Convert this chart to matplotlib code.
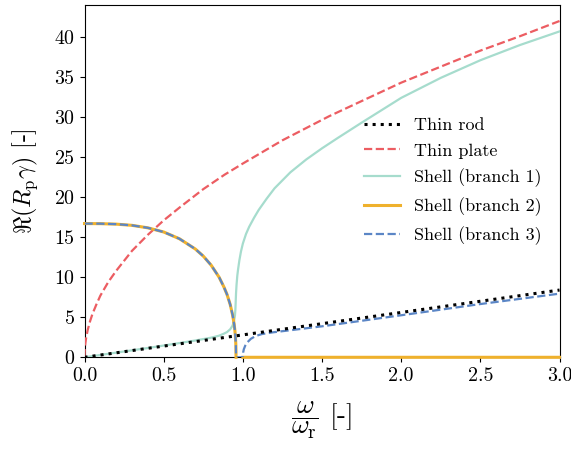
import matplotlib
matplotlib.use("Agg")
import matplotlib.pyplot as plt

plt.rcParams['mathtext.fontset'] = 'cm'
plt.rcParams['font.family'] = ['cmr10', 'DejaVu Serif']
plt.rcParams['axes.formatter.use_mathtext'] = True

# ---- data ----
rod_x = [0.0, 0.5, 1.0, 1.5, 2.0, 2.5, 3.0]
rod_y = [0.0, 1.4, 2.8, 4.2, 5.6, 7.0, 8.4]

plate_x = [0.0, 0.002, 0.005, 0.01, 0.02, 0.035, 0.05, 0.075, 0.1, 0.15, 0.2, 0.3, 0.4, 0.5,
           0.6, 0.75, 0.884, 1.0, 1.25, 1.544, 1.75, 2.0, 2.25, 2.5, 2.75, 3.0]
plate_y = [0.0, 1.1, 1.7, 2.4, 3.4, 4.5, 5.4, 6.6, 7.7, 9.4, 10.8, 13.3, 15.3, 17.1,
           18.7, 21.0, 22.8, 24.2, 27.1, 30.1, 32.0, 34.3, 36.3, 38.3, 40.1, 42.0]

b1_x = [0.0, 0.2, 0.4, 0.6, 0.7, 0.8, 0.85, 0.88, 0.9, 0.92, 0.935, 0.945, 0.95, 0.953,
        0.955, 0.957, 0.96, 0.965, 0.97, 0.978, 0.988, 1.0, 1.02, 1.04, 1.07, 1.1, 1.15,
        1.2, 1.3, 1.4, 1.5, 1.6, 1.75, 2.0, 2.25, 2.5, 2.75, 3.0]
b1_y = [0.0, 0.58, 1.16, 1.78, 2.1, 2.45, 2.7, 2.95, 3.15, 3.5, 3.95, 4.6, 5.2, 6.0,
        7.0, 8.0, 9.0, 10.2, 11.0, 12.1, 13.2, 14.2, 15.4, 16.3, 17.4, 18.4, 19.8,
        21.1, 23.1, 24.7, 26.1, 27.4, 29.3, 32.4, 34.9, 37.1, 39.0, 40.7]

b2_x = [0.0, 0.1, 0.2, 0.3, 0.4, 0.5, 0.6, 0.7, 0.75, 0.8, 0.85, 0.88, 0.9, 0.92,
        0.935, 0.945, 0.95, 0.954, 0.956, 0.957]
b2_y = [16.7, 16.69, 16.63, 16.48, 16.17, 15.65, 14.8, 13.52, 12.64, 11.5, 10.0, 8.8, 7.85, 6.6,
        5.3, 4.15, 3.3, 2.3, 1.45, 0.0]
b2_tail_x = [1.0, 3.0]
b2_tail_y = [0.0, 0.0]

b3_tail_x = [1.0, 1.002, 1.006, 1.015, 1.03, 1.05, 1.08, 1.12, 1.19, 1.3, 1.5, 1.75,
             2.0, 2.25, 2.5, 2.75, 3.0]
b3_tail_y = [0.0, 0.6, 1.0, 1.45, 1.9, 2.3, 2.65, 2.9, 3.12, 3.38, 3.87, 4.56,
             5.25, 5.95, 6.65, 7.3, 7.95]

# ---- figure ----
fig = plt.figure(figsize=(5.71, 4.54), dpi=100)
ax = fig.add_axes([0.148, 0.213, 0.8319, 0.776])

nan = float('nan')
ax.plot(rod_x, rod_y, ':', color='black', lw=2.2, label='Thin rod', zorder=5)
ax.plot(plate_x, plate_y, '--', color='#ec5d62', lw=1.6, label='Thin plate', zorder=3)
ax.plot(b1_x, b1_y, '-', color='#a6dccd', lw=1.6, label='Shell (branch 1)', zorder=3)
ax.plot(b2_x + [nan] + b2_tail_x, b2_y + [nan] + b2_tail_y, '-', color='#efb12d', lw=2.2,
        label='Shell (branch 2)', zorder=4, clip_on=False)
ax.plot(b2_x + b3_tail_x, b2_y + b3_tail_y, '--', color='#5b86c6', lw=1.6,
        label='Shell (branch 3)', zorder=4)

ax.set_xlim(0, 3)
ax.set_ylim(0, 44)
ax.set_xticks([0, 0.5, 1.0, 1.5, 2.0, 2.5, 3.0])
ax.set_xticklabels(['0.0', '0.5', '1.0', '1.5', '2.0', '2.5', '3.0'])
ax.set_yticks([0, 5, 10, 15, 20, 25, 30, 35, 40])
ax.tick_params(labelsize=14.4)

ax.set_xlabel(r'$\dfrac{\omega}{\omega_\mathrm{r}}$ [-]', fontsize=19.5, labelpad=11)
ax.set_ylabel(r'$\Re(R_\mathrm{p}\gamma)$ [-]', fontsize=17.28, labelpad=10)

leg = ax.legend(loc='center right', frameon=False, fontsize=13,
                bbox_to_anchor=(0.997, 0.5), handlelength=2.0, labelspacing=0.56)

fig.savefig('out.png', dpi=100)
